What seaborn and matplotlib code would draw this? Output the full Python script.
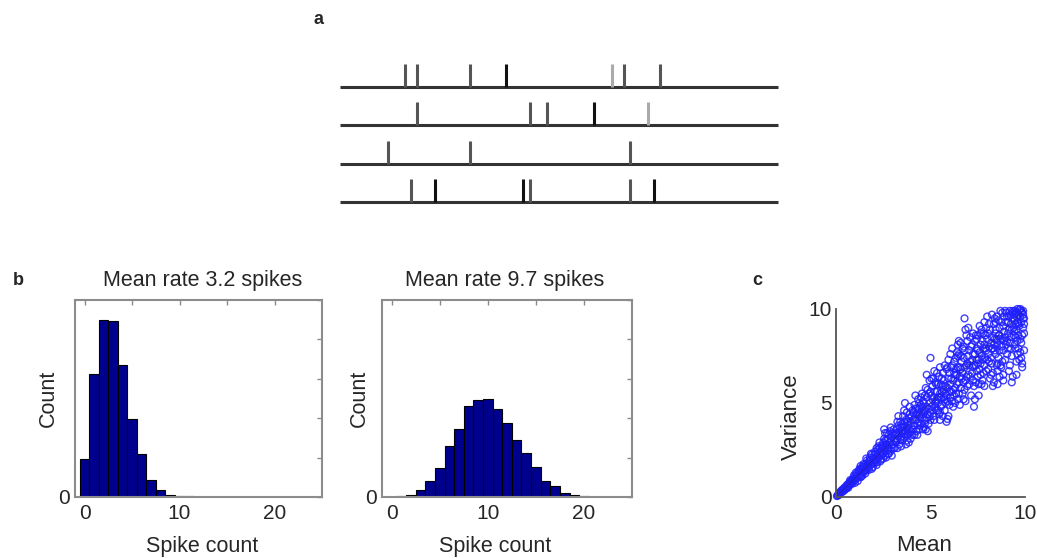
import matplotlib
matplotlib.use("Agg")
import matplotlib.pyplot as plt
import numpy as np
import pandas as pd
import seaborn as sns
from matplotlib.ticker import FixedLocator, MultipleLocator

# ---------------- data ----------------
# panel a: spike times (fraction of the trial window) for four trials
train_1 = [0.148, 0.176, 0.297, 0.379, 0.621, 0.648, 0.731]
train_2 = [0.176, 0.434, 0.473, 0.580, 0.703]
train_3 = [0.110, 0.297, 0.662]
train_4 = [0.162, 0.217, 0.418, 0.434, 0.662, 0.717]
spike_trains = [train_1, train_2, train_3, train_4]

# panel b: spike count histograms
spike_count_bins = list(range(0, 25))
counts_low_rate = [191, 624, 898, 893, 668, 395, 216, 85, 37, 12, 5, 3, 2,
                   1, 1, 0, 0, 0, 0, 0, 0, 0, 0, 0, 0]
counts_high_rate = [1, 3, 12, 37, 80, 148, 260, 347, 464, 490, 500, 449, 378,
                    291, 224, 153, 82, 56, 22, 12, 5, 1, 0, 0, 0]
title_low = "Mean rate 3.2 spikes"
title_high = "Mean rate 9.7 spikes"
hist_xticks = [0, 5, 10, 15, 20]
hist_xticklabels = ["0", "", "10", "", "20"]
hist_yticks = [0, 200, 400, 600, 800, 1000]
hist_yticklabels = ["0", "", "", "", "", ""]

# panel c: mean vs variance of spike counts (one point per cell)
mean_var_points = [
    (0.05, 0.05), (0.1, 0.08), (0.15, 0.12), (0.2, 0.2), (0.25, 0.22), (0.3, 0.3), (0.35, 0.28),
    (0.4, 0.42), (0.45, 0.38), (0.5, 0.5), (0.55, 0.6), (0.6, 0.52), (0.65, 0.7), (0.7, 0.62),
    (0.75, 0.8), (0.8, 0.72), (0.85, 0.9), (0.9, 0.82), (0.95, 1.0), (1.0, 0.9), (0.3, 0.35),
    (0.5, 0.42), (0.7, 0.75), (0.9, 0.95), (0.6, 0.65), (0.4, 0.33), (0.8, 0.85), (1.0, 1.1),
    (1.1, 1.0), (1.1, 1.25), (1.2, 1.1), (1.25, 1.35), (1.3, 1.2), (1.35, 1.5), (1.4, 1.3),
    (1.45, 1.55), (1.5, 1.4), (1.5, 1.7), (1.55, 1.45), (1.6, 1.6), (1.65, 1.8), (1.7, 1.55),
    (1.75, 1.9), (1.8, 1.7), (1.85, 2.0), (1.9, 1.75), (1.95, 2.1), (2.0, 1.85), (1.2, 1.4),
    (1.4, 1.6), (1.6, 1.4), (1.8, 2.1), (1.3, 1.05), (1.7, 1.75), (1.9, 2.25), (1.5, 1.55),
    (1.15, 1.15), (2.0, 2.05),
    (2.05, 1.8), (2.1, 2.3), (2.15, 2.0), (2.2, 2.5), (2.25, 2.1), (2.3, 2.6), (2.35, 2.2),
    (2.4, 2.45), (2.45, 2.75), (2.5, 2.3), (2.5, 2.9), (2.55, 2.5), (2.6, 2.2), (2.65, 2.8),
    (2.7, 2.5), (2.75, 3.1), (2.8, 2.6), (2.85, 2.9), (2.9, 2.45), (2.95, 3.2), (3.0, 2.8),
    (2.2, 2.2), (2.4, 2.0), (2.6, 3.0), (2.8, 3.3), (2.3, 2.4), (2.7, 2.75), (2.9, 3.0),
    (2.1, 1.95), (3.0, 3.4), (2.5, 2.6), (2.75, 2.3),
    (3.05, 2.6), (3.1, 3.3), (3.15, 2.9), (3.2, 3.6), (3.25, 3.1), (3.3, 3.4), (3.35, 2.8),
    (3.4, 3.7), (3.45, 3.2), (3.5, 3.9), (3.5, 3.0), (3.55, 3.5), (3.6, 3.2), (3.65, 4.0),
    (3.7, 3.5), (3.75, 3.0), (3.8, 3.8), (3.85, 4.2), (3.9, 3.4), (3.95, 4.0), (4.0, 3.6),
    (4.0, 4.3), (3.2, 3.35), (3.4, 3.05), (3.6, 3.75), (3.8, 3.3), (3.3, 3.8), (3.7, 4.1),
    (3.9, 4.4), (3.1, 3.0), (3.5, 3.4), (3.85, 3.6), (2.7, 3.4), (3.4, 4.0),
    (4.05, 3.3), (4.1, 4.5), (4.15, 3.8), (4.2, 4.1), (4.25, 3.5), (4.3, 4.7), (4.35, 4.0),
    (4.4, 3.6), (4.45, 4.4), (4.5, 4.9), (4.5, 3.9), (4.55, 4.2), (4.6, 5.1), (4.65, 3.7),
    (4.7, 4.6), (4.75, 4.1), (4.8, 5.3), (4.85, 4.4), (4.9, 3.9), (4.95, 5.0), (5.0, 4.5),
    (5.0, 5.6), (4.2, 4.7), (4.4, 5.0), (4.6, 4.4), (4.8, 4.8), (4.3, 3.9), (4.7, 5.4),
    (4.9, 4.7), (4.1, 3.6), (4.5, 4.5), (4.85, 5.7), (5.0, 4.1), (4.4, 4.3), (4.75, 3.6),
    (5.05, 4.8), (5.1, 5.9), (5.15, 4.3), (5.2, 5.3), (5.25, 6.1), (5.3, 4.6), (5.35, 5.6),
    (5.4, 5.0), (5.45, 6.4), (5.5, 4.5), (5.5, 5.5), (5.55, 6.0), (5.6, 4.9), (5.65, 6.6),
    (5.7, 5.3), (5.75, 4.6), (5.8, 5.9), (5.85, 6.8), (5.9, 5.1), (5.95, 6.3), (6.0, 5.6),
    (6.0, 4.9), (5.2, 4.1), (5.4, 6.0), (5.6, 5.6), (5.8, 5.0), (5.3, 5.1), (5.7, 6.2),
    (5.9, 5.8), (5.1, 5.2), (5.5, 6.9), (5.0, 7.4), (5.65, 4.3), (5.45, 5.3), (5.85, 4.0),
    (6.0, 6.6), (5.25, 5.6),
    (6.05, 5.3), (6.1, 6.3), (6.15, 7.0), (6.2, 5.7), (6.25, 6.6), (6.3, 5.0), (6.35, 7.4),
    (6.4, 6.0), (6.45, 6.9), (6.5, 5.5), (6.5, 7.6), (6.55, 6.4), (6.6, 5.8), (6.65, 7.2),
    (6.7, 6.6), (6.75, 5.2), (6.8, 7.8), (6.8, 9.5), (6.85, 6.2), (6.9, 7.0), (6.95, 5.9),
    (7.0, 7.5), (7.0, 6.5), (6.2, 6.2), (6.4, 7.7), (6.6, 6.8), (6.8, 5.7), (6.3, 6.5),
    (6.7, 7.9), (6.9, 6.4), (6.1, 5.6), (6.5, 6.1), (6.75, 7.4), (6.45, 5.2), (6.95, 8.3),
    (6.35, 6.8), (6.15, 7.9), (6.6, 8.2),
    (7.05, 6.0), (7.1, 7.2), (7.15, 8.0), (7.2, 6.6), (7.25, 7.6), (7.3, 5.9), (7.35, 8.3),
    (7.4, 7.0), (7.45, 7.9), (7.5, 6.4), (7.5, 8.6), (7.55, 7.3), (7.6, 6.8), (7.65, 8.1),
    (7.7, 7.5), (7.75, 6.2), (7.8, 8.7), (7.85, 7.0), (7.9, 7.9), (7.95, 6.7), (8.0, 8.4),
    (8.0, 7.3), (7.2, 7.3), (7.4, 8.6), (7.6, 7.7), (7.8, 6.6), (7.3, 7.0), (7.7, 8.9),
    (7.9, 7.4), (7.1, 6.4), (7.5, 7.8), (7.75, 8.3), (7.45, 6.7), (7.95, 9.0), (7.35, 7.6),
    (7.65, 6.5), (7.85, 8.1), (7.25, 8.7),
    (8.05, 6.8), (8.1, 8.0), (8.15, 8.9), (8.2, 7.4), (8.25, 8.5), (8.3, 6.6), (8.35, 9.2),
    (8.4, 7.8), (8.45, 8.7), (8.5, 7.0), (8.5, 9.6), (8.55, 8.2), (8.6, 7.4), (8.65, 9.0),
    (8.7, 8.4), (8.75, 6.9), (8.8, 9.8), (8.85, 7.8), (8.9, 8.8), (8.95, 7.3), (9.0, 9.3),
    (9.0, 8.1), (8.2, 8.2), (8.4, 9.5), (8.6, 8.6), (8.8, 7.2), (8.3, 7.9), (8.7, 9.9),
    (8.9, 8.3), (8.1, 7.2), (8.5, 8.4), (8.75, 9.3), (8.45, 7.6), (8.95, 9.9), (8.35, 8.1),
    (8.65, 7.8), (8.85, 9.1), (8.25, 9.7), (8.55, 6.7),
    (9.05, 7.6), (9.1, 8.7), (9.15, 9.6), (9.2, 8.2), (9.25, 9.2), (9.3, 7.5), (9.35, 9.9),
    (9.4, 8.6), (9.45, 9.4), (9.5, 7.9), (9.5, 9.8), (9.55, 8.9), (9.6, 8.3), (9.65, 9.7),
    (9.7, 9.1), (9.75, 7.7), (9.8, 9.9), (9.85, 8.6), (9.9, 9.5), (9.95, 7.8), (9.9, 9.0),
    (9.2, 9.9), (9.4, 9.7), (9.6, 9.3), (9.8, 8.2), (9.3, 8.9), (9.7, 9.95), (9.9, 9.7),
    (9.1, 7.9), (9.5, 9.2), (9.75, 9.6), (9.45, 8.1), (9.95, 9.2), (9.35, 9.5), (9.65, 8.6),
    (9.85, 9.8), (9.25, 8.5), (9.55, 9.6), (9.0, 9.8), (9.8, 7.4), (9.6, 10.0),
    # second batch of cells
    (1.05, 1.3), (1.15, 0.85), (1.25, 1.5), (1.35, 1.1), (1.45, 1.75), (1.55, 1.25), (1.65, 1.95),
    (1.75, 1.45), (1.85, 2.3), (1.95, 1.6), (1.3, 1.65), (1.6, 2.05), (1.9, 1.5), (1.0, 0.75),
    (1.4, 1.15), (1.8, 1.95), (0.95, 1.15), (0.65, 0.5), (0.85, 0.7), (0.55, 0.45), (0.75, 0.9),
    (0.45, 0.5), (0.2, 0.25), (0.35, 0.4), (0.15, 0.18), (0.25, 0.3), (0.1, 0.1),
    (2.05, 2.4), (2.15, 1.7), (2.25, 2.7), (2.35, 1.9), (2.45, 2.3), (2.55, 3.1), (2.65, 2.1),
    (2.75, 2.6), (2.85, 3.5), (2.95, 2.6), (2.3, 2.9), (2.5, 2.05), (2.6, 3.4), (2.8, 2.3),
    (2.9, 3.7), (2.2, 1.85), (2.4, 2.7), (2.7, 3.0), (2.95, 2.2), (2.55, 3.6), (2.15, 2.6),
    (3.05, 3.6), (3.15, 3.4), (3.25, 4.0), (3.35, 3.3), (3.45, 2.7), (3.55, 4.3), (3.65, 3.4),
    (3.75, 4.5), (3.85, 2.9), (3.95, 3.5), (3.1, 2.6), (3.3, 4.3), (3.5, 3.7), (3.7, 2.8),
    (3.9, 4.8), (3.2, 3.0), (3.6, 4.6), (3.8, 4.0), (3.45, 3.5), (3.75, 3.6), (3.25, 2.6),
    (3.65, 5.0), (3.95, 3.1),
    (4.05, 4.6), (4.15, 4.9), (4.25, 4.4), (4.35, 5.2), (4.45, 3.8), (4.55, 5.5), (4.65, 4.6),
    (4.75, 5.8), (4.85, 3.5), (4.95, 4.3), (4.1, 4.1), (4.3, 3.3), (4.5, 5.3), (4.7, 3.9),
    (4.9, 5.5), (4.2, 5.4), (4.4, 4.7), (4.6, 3.6), (4.8, 4.2), (4.15, 3.3), (4.55, 4.8),
    (4.95, 6.2), (4.65, 5.0), (4.35, 4.5), (4.8, 6.5),
    (5.05, 5.4), (5.15, 6.3), (5.25, 4.8), (5.35, 6.6), (5.45, 4.4), (5.55, 5.3), (5.65, 5.9),
    (5.75, 7.0), (5.85, 5.4), (5.95, 4.3), (5.1, 4.6), (5.3, 6.0), (5.5, 4.1), (5.7, 5.7),
    (5.9, 6.9), (5.2, 6.7), (5.4, 4.6), (5.6, 6.3), (5.8, 5.5), (5.05, 6.3), (5.35, 5.2),
    (5.75, 5.2), (5.95, 7.3), (5.55, 4.8), (5.25, 5.0), (5.9, 4.15),
    (6.05, 6.0), (6.15, 5.1), (6.25, 7.2), (6.35, 5.5), (6.45, 7.5), (6.55, 4.9), (6.65, 6.3),
    (6.75, 8.0), (6.85, 5.1), (6.95, 7.1), (6.1, 6.9), (6.3, 5.8), (6.5, 8.3), (6.7, 5.5),
    (6.9, 8.6), (6.2, 4.8), (6.4, 6.5), (6.6, 7.5), (6.8, 6.9), (6.05, 7.6), (6.55, 6.9),
    (6.25, 5.4), (6.85, 8.9), (6.45, 8.1), (6.75, 6.1),
    (7.05, 7.0), (7.15, 5.4), (7.25, 6.9), (7.35, 5.2), (7.45, 8.4), (7.55, 6.0), (7.65, 8.7),
    (7.75, 7.3), (7.85, 5.9), (7.95, 7.8), (7.1, 8.5), (7.3, 4.8), (7.5, 7.1), (7.7, 6.0),
    (7.9, 8.6), (7.2, 8.1), (7.4, 6.1), (7.6, 9.1), (7.8, 7.9), (7.05, 7.8), (7.55, 5.4),
    (7.25, 6.2), (7.85, 9.3), (7.45, 7.3), (7.65, 7.1), (7.0, 9.0),
    (8.05, 7.6), (8.15, 6.3), (8.25, 7.9), (8.35, 6.1), (8.45, 9.3), (8.55, 7.1), (8.65, 8.6),
    (8.75, 8.0), (8.85, 6.5), (8.95, 8.5), (8.1, 9.2), (8.3, 5.9), (8.5, 8.0), (8.7, 7.0),
    (8.9, 9.6), (8.2, 6.5), (8.4, 8.4), (8.6, 9.4), (8.8, 8.4), (8.05, 8.7), (8.55, 6.0),
    (8.25, 7.1), (8.85, 6.2), (8.45, 8.9), (8.65, 6.4), (8.0, 9.6),
    (9.05, 8.3), (9.15, 6.7), (9.25, 7.9), (9.35, 6.4), (9.45, 9.9), (9.55, 7.2), (9.65, 9.2),
    (9.75, 8.4), (9.85, 6.9), (9.95, 8.7), (9.1, 9.3), (9.3, 6.1), (9.5, 8.5), (9.7, 7.3),
    (9.9, 9.9), (9.2, 7.0), (9.4, 9.0), (9.6, 9.8), (9.8, 9.3), (9.05, 9.6), (9.55, 6.5),
    (9.25, 9.7), (9.85, 7.1), (9.45, 8.8), (9.65, 7.9), (9.75, 10.0), (9.95, 9.5), (9.15, 8.9),
    (9.35, 9.8), (9.6, 7.6),
]
scatter_mean = [p[0] for p in mean_var_points]
scatter_var = [p[1] for p in mean_var_points]

# spike shade per spike (style, parallel to spike_trains)
spike_shades = [
    ["#555555", "#555555", "#555555", "#111111", "#aaaaaa", "#555555", "#555555"],
    ["#555555", "#555555", "#555555", "#111111", "#aaaaaa"],
    ["#555555", "#555555", "#555555"],
    ["#555555", "#111111", "#111111", "#555555", "#555555", "#111111"],
]

# ---------------- style ----------------
sns.set_theme(style="white")
plt.rcParams["font.family"] = ["Liberation Sans", "DejaVu Sans"]
TXT = "#262626"
plt.rcParams["text.color"] = TXT
plt.rcParams["axes.labelcolor"] = TXT
plt.rcParams["xtick.color"] = TXT
plt.rcParams["ytick.color"] = TXT
LABEL_FS = 15.5
TICK_FS = 15

W, H = 1037, 558
fig = plt.figure(figsize=(W / 100, H / 100), dpi=100)


def rect(left, top, right, bottom):
    return [left / W, 1 - bottom / H, (right - left) / W, (bottom - top) / H]


# ---------------- panel a ----------------
axa = fig.add_axes(rect(340, 55, 778, 210))
for i, (train, shades) in enumerate(zip(spike_trains, spike_shades)):
    axa.hlines(-i, 0, 1, color="#333333", lw=2.2, clip_on=False)
    for t, c in zip(train, shades):
        axa.vlines(t, -i, -i + 0.6, color=c, lw=2.2, clip_on=False)
axa.set_xlim(0, 1)
axa.set_ylim(-3.209, 0.835)
axa.axis("off")


# ---------------- panel b ----------------
def hist_panel(box, counts, title, title_x, xlabel_x, ylabel_x):
    ax = fig.add_axes(rect(*box))
    sns.histplot(x=spike_count_bins, weights=counts, discrete=True, ax=ax,
                 color="#00008f", edgecolor="black", linewidth=0.8, alpha=1)
    ax.set_xlim(-1, 25)
    ax.set_ylim(0, 1000)
    ax.xaxis.set_major_locator(FixedLocator(hist_xticks))
    ax.set_xticklabels(hist_xticklabels)
    ax.yaxis.set_major_locator(FixedLocator(hist_yticks))
    ax.set_yticklabels(hist_yticklabels)
    ax.tick_params(direction="in", top=True, right=True, length=3.5,
                   width=1, color="#8a8a8a", labelsize=TICK_FS, pad=5)
    ax.tick_params(axis="y", pad=4)
    for s in ax.spines.values():
        s.set_visible(True)
        s.set_color("#8c8c8c")
        s.set_linewidth(1.5)
    ax.set_title(title, fontsize=LABEL_FS, pad=10, color=TXT, x=title_x)
    ax.set_xlabel("Spike count", fontsize=LABEL_FS)
    ax.set_ylabel("Count", fontsize=LABEL_FS)
    ax.xaxis.set_label_coords(xlabel_x, -0.2)
    ax.yaxis.set_label_coords(ylabel_x, 0.5)
    return ax


hist_panel((75, 300, 322, 497), counts_low_rate, title_low, 0.518, 0.516, -0.065)
hist_panel((382, 300, 632, 497), counts_high_rate, title_high, 0.49, 0.452, -0.05)

# ---------------- panel c ----------------
axc = fig.add_axes(rect(836, 309, 1025, 497))
df = pd.DataFrame({"Mean": scatter_mean, "Variance": scatter_var})
sns.scatterplot(data=df, x="Mean", y="Variance", ax=axc, marker="o",
                facecolor="none", edgecolor="#2020ff", linewidth=1.0, s=24,
                alpha=0.85, clip_on=False)
axc.axline((0, 0), slope=1, color="#222222", lw=0.6, alpha=0.45)
axc.set_xlim(0, 10)
axc.set_ylim(0, 10)
axc.xaxis.set_major_locator(FixedLocator([0, 5, 10]))
axc.yaxis.set_major_locator(FixedLocator([0, 5, 10]))
axc.xaxis.set_minor_locator(MultipleLocator(1))
axc.yaxis.set_minor_locator(MultipleLocator(1))
axc.tick_params(which="both", direction="in", length=4, width=1,
                color="#555555", labelsize=TICK_FS)
axc.tick_params(axis="x", pad=5)
axc.tick_params(axis="y", pad=3)
for k in ("top", "right"):
    axc.spines[k].set_visible(False)
for k in ("left", "bottom"):
    axc.spines[k].set_color("#555555")
    axc.spines[k].set_linewidth(1.3)
axc.set_xlabel("Mean", fontsize=LABEL_FS + 0.5)
axc.set_ylabel("Variance", fontsize=LABEL_FS + 0.5)
axc.xaxis.set_label_coords(0.468, -0.2)
axc.yaxis.set_label_coords(-0.18, 0.426)

# ---------------- panel letters ----------------
fig.text(313 / W, 1 - 24 / H, "a", fontsize=13, fontweight="bold")
fig.text(13 / W, 1 - 285 / H, "b", fontsize=13, fontweight="bold")
fig.text(752 / W, 1 - 285 / H, "c", fontsize=13, fontweight="bold")

fig.savefig("out.png", dpi=100, facecolor="white")
